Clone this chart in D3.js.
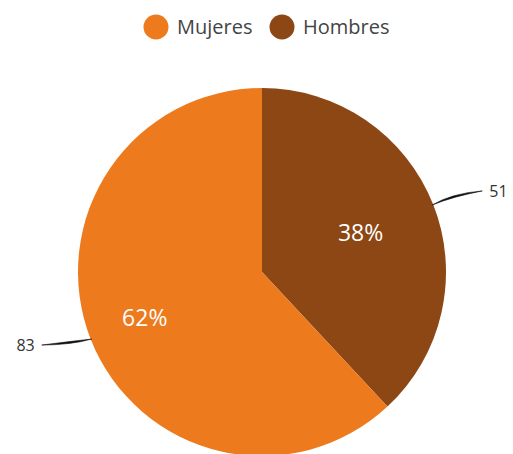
<!DOCTYPE html>
<html>
<head>
<meta charset="utf-8">
<script src="https://cdn.jsdelivr.net/npm/d3@7"></script>
<style>
  html, body { margin: 0; padding: 0; background: #fff; }
  svg { display: block; font-family: "Open Sans", sans-serif; }
</style>
</head>
<body>
<svg id="chart" width="513" height="454"></svg>
<script>
const categories = ['Mujeres', 'Hombres'];
const values = [83, 51];
const colors = ['#ee7a1e', '#8c4714'];

const width = 513, height = 454;
const cx = 262, cy = 272, radius = 184;

const svg = d3.select('#chart');

// legend
const legend = svg.append('g').attr('transform', 'translate(0,27)');
const legX = [156, 282];
categories.forEach((c, i) => {
    const g = legend.append('g').attr('transform', `translate(${legX[i]},0)`);
    g.append('circle').attr('r', 12.5).attr('fill', colors[i]);
    g.append('text')
        .attr('x', 21).attr('y', 7)
        .attr('font-size', 20)
        .attr('fill', '#444')
        .text(c);
});

// pie: Hombres starts at 12 o'clock going clockwise, Mujeres takes the rest
const order = [1, 0];
const pie = d3.pie().value(i => values[i]).sort(null);
const arcs = pie(order);
const total = d3.sum(values);

const arc = d3.arc().innerRadius(0).outerRadius(radius);
const g = svg.append('g').attr('transform', `translate(${cx},${cy})`);

g.selectAll('path.slice')
    .data(arcs)
    .enter()
    .append('path')
    .attr('class', 'slice')
    .attr('fill', d => colors[d.data])
    .attr('d', arc);

// inner percentage labels
const innerR = { 0: 126, 1: 106 };
arcs.forEach(d => {
    const a = (d.startAngle + d.endAngle) / 2;
    const r = innerR[d.data];
    const pct = Math.round(values[d.data] / total * 100);
    g.append('text')
        .attr('x', Math.sin(a) * r)
        .attr('y', -Math.cos(a) * r)
        .attr('dy', '0.35em')
        .attr('text-anchor', 'middle')
        .attr('font-size', 23)
        .attr('font-weight', 500)
        .attr('fill', '#fff')
        .text(pct + '%');
});

// outer value labels with tapered connectors
arcs.forEach(d => {
    const a = (d.startAngle + d.endAngle) / 2;
    const side = Math.sin(a) >= 0 ? 1 : -1;
    const x0 = Math.sin(a) * (radius - 1), y0 = -Math.cos(a) * (radius - 1);
    const x1 = x0 + side * 24, y1 = y0 - (side > 0 ? 10 : -4);
    const x2 = x0 + side * 50, y2 = y0 + (side > 0 ? -14 : 6);
    const path = d3.path();
    path.moveTo(x0, y0);
    path.quadraticCurveTo(x1 - side * 4, y1 - 1.8, x2, y2);
    path.quadraticCurveTo(x1 - side * 4, y1 + 1.8, x0, y0);
    g.append('path')
        .attr('d', path.toString())
        .attr('fill', '#111')
        .attr('stroke', '#111')
        .attr('stroke-width', 0.6);
    g.append('text')
        .attr('x', x2 + side * 7)
        .attr('y', y2)
        .attr('dy', '0.35em')
        .attr('text-anchor', side > 0 ? 'start' : 'end')
        .attr('font-size', 16)
        .attr('fill', '#333')
        .text(values[d.data]);
});
</script>
</body>
</html>
